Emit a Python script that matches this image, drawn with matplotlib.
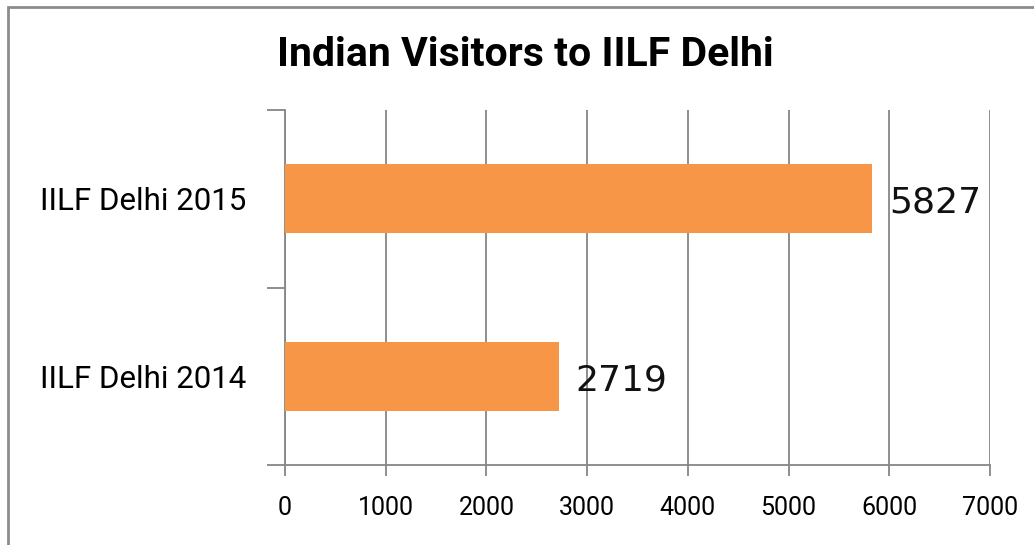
import matplotlib
matplotlib.use('Agg')
import matplotlib.pyplot as plt
from matplotlib.patches import Rectangle

categories = ['IILF Delhi 2014', 'IILF Delhi 2015']
visitors = [2719, 5827]
x_ticks = [0, 1000, 2000, 3000, 4000, 5000, 6000, 7000]

narrow = 'Roboto'

fig = plt.figure(figsize=(10.34, 5.45), dpi=100)
ax = fig.add_axes([285/1034, 1-465/545, 705/1034, 355/545])

# grey frame round the chart (right/bottom edges fall outside the image)
fig.patches.append(Rectangle((8/1034, -0.1), 1.2, 1-7/545+0.1, transform=fig.transFigure,
                             fill=False, edgecolor='#8c8c8c', linewidth=2))

pos = range(len(categories))
ax.barh(pos, visitors, height=0.39, color='#F79646', zorder=3)
for p, v in zip(pos, visitors):
    ax.annotate(str(v), (v, p), xytext=(17, -4), textcoords='offset pixels',
                va='center', ha='left', fontsize=26, family='DejaVu Sans',
                color='#111111')

ax.set_xlim(0, 7000)
ax.set_ylim(-0.5, 1.5)
ax.set_xticks(x_ticks)
ax.set_xticklabels([str(t) for t in x_ticks], family=narrow, fontsize=18)
ax.set_yticks(list(pos))
ax.set_yticklabels(categories, family=narrow, fontsize=22.5)
ax.set_yticks([-0.5, 0.5, 1.5], minor=True)
ax.tick_params(axis='y', which='major', length=0, pad=28)
ax.tick_params(axis='y', which='minor', length=13, color='#868686', width=1.3)
ax.tick_params(axis='x', length=8, color='#868686', width=1.3, pad=14)
ax.grid(axis='x', color='#868686', linewidth=1.3, zorder=0)
for s in ['top', 'right']:
    ax.spines[s].set_visible(False)
for s in ['left', 'bottom']:
    ax.spines[s].set_color('#868686')
    ax.spines[s].set_linewidth(1.3)

fig.text(525/1034, 1-55/545, 'Indian Visitors to IILF Delhi', ha='center', va='center',
         fontsize=29.5, fontweight='bold', family=narrow)

fig.savefig('out.png', dpi=100)
